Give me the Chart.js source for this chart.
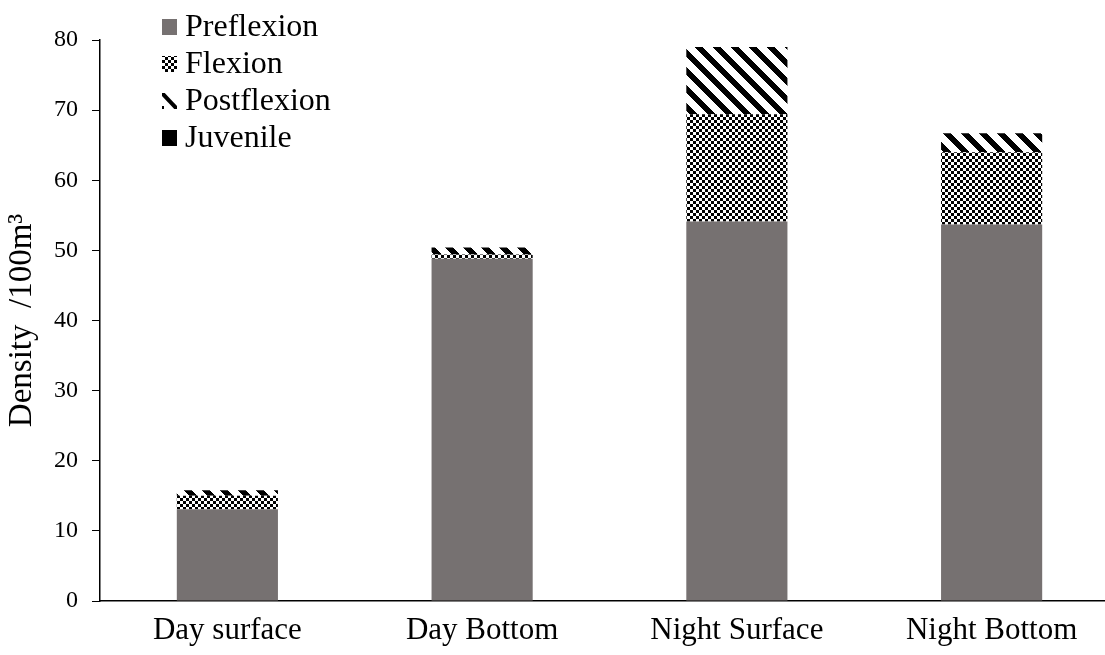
<!DOCTYPE html>
<html lang="en">
<head>
  <meta charset="utf-8"/>
  <title>Density by stage</title>
  <script src="https://cdn.jsdelivr.net/npm/chart.js"></script>
  <style>
    html,body{margin:0;padding:0;background:#fff;overflow:hidden}
    #wrap{width:1105px;height:655px;overflow:hidden}
  </style>
</head>
<body>
<div id="wrap"><canvas id="chart" width="1120" height="655"></canvas></div>
<script>
const categories=['Day surface','Day Bottom','Night Surface','Night Bottom'];
const preflexion=[13.1,48.8,54.1,53.7];
const flexion=[1.9,0.6,15.3,10.3];
const postflexion=[0.8,1.0,9.6,2.7];
const juvenile=[0,0,0,0];
const yTicks=[0,10,20,30,40,50,60,70,80];

const SERIF='"Liberation Serif","Times New Roman",serif';

// pixel patterns, like Excel fills
function makeTile(size,test){
  const c=document.createElement('canvas');c.width=c.height=size;
  const g=c.getContext('2d');const img=g.createImageData(size,size);
  for(let y=0;y<size;y++)for(let x=0;x<size;x++){
    const i=(y*size+x)*4,v=test(x,y)?0:255;
    img.data[i]=img.data[i+1]=img.data[i+2]=v;img.data[i+3]=255;
  }
  g.putImageData(img,0,0);
  return g.createPattern(c,'repeat');
}
const checker=makeTile(6,(x,y)=>(Math.floor(x/3)+Math.floor(y/3))%2===0);
const diag=makeTile(18,(x,y)=>((x-y)%18+18)%18<8);

const legendItems=[
  {label:'Preflexion',fill:'#767171'},
  {label:'Flexion',fill:checker},
  {label:'Postflexion',fill:'diag'},
  {label:'Juvenile',fill:'#000'}
];

const legendPlugin={
  id:'cornerLegend',
  afterDraw(chart){
    const ctx=chart.ctx;
    ctx.save();
    ctx.font='32px '+SERIF;ctx.fillStyle='#000';ctx.textBaseline='middle';
    legendItems.forEach((it,i)=>{
      const cy=27+i*37,x0=162,y0=cy-8;
      if(it.fill==='diag'){
        ctx.save();ctx.beginPath();ctx.rect(x0,y0,15,16);ctx.clip();
        ctx.strokeStyle='#000';ctx.lineWidth=4;
        ctx.beginPath();ctx.moveTo(x0,y0);ctx.lineTo(x0+15,y0+16);ctx.stroke();
        ctx.fillStyle='#000';ctx.fillRect(x0,y0+13,2,3);
        ctx.restore();
      }else{
        ctx.fillStyle=it.fill;ctx.fillRect(x0,y0,15,16);
      }
      ctx.fillStyle='#000';
      ctx.fillText(it.label,185,cy+1);
    });
    ctx.restore();
  }
};

const common={barPercentage:1,categoryPercentage:0.397,borderWidth:0};
new Chart(document.getElementById('chart'),{
  type:'bar',
  data:{
    labels:categories,
    datasets:[
      {label:'Preflexion',data:preflexion,backgroundColor:'#767171',...common},
      {label:'Flexion',data:flexion,backgroundColor:checker,...common},
      {label:'Postflexion',data:postflexion,backgroundColor:diag,...common},
      {label:'Juvenile',data:juvenile,backgroundColor:'#000',...common}
    ]
  },
  options:{
    responsive:false,
    animation:false,
    layout:{padding:{top:40,right:1,left:0,bottom:0}},
    plugins:{legend:{display:false},tooltip:{enabled:false}},
    scales:{
      x:{
        stacked:true,
        grid:{display:false},
        border:{display:true,color:'#000',width:1.5},
        ticks:{font:{family:SERIF,size:31},color:'#000',padding:3},
        afterFit(s){s.height=54;}
      },
      y:{
        stacked:true,
        min:0,max:80,
        afterBuildTicks(s){s.ticks=yTicks.map(v=>({value:v}));},
        grid:{drawOnChartArea:false,drawTicks:true,tickLength:8,color:'#000'},
        border:{display:true,color:'#000',width:1.5},
        ticks:{font:{family:SERIF,size:24},color:'#000',padding:14},
        title:{display:true,text:'Density  /100m³',font:{family:SERIF,size:33},color:'#000',padding:{top:3,bottom:0}},
        afterFit(s){s.width=100;}
      }
    }
  },
  plugins:[legendPlugin]
});
</script>
</body>
</html>
